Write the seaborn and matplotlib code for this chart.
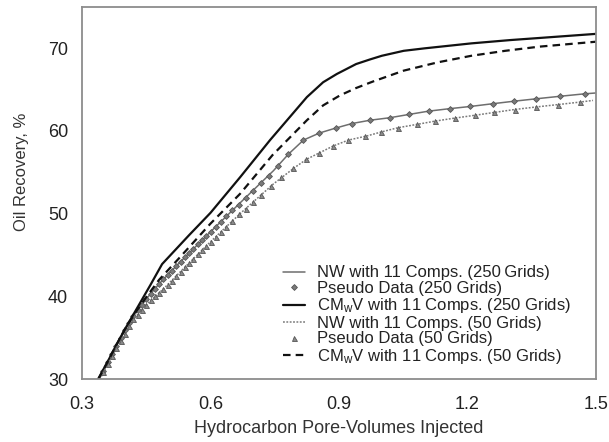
import matplotlib
matplotlib.use("Agg")
import matplotlib.pyplot as plt
import seaborn as sns
import pandas as pd

# ---- data ----
cmwv250_x = [0.338, 0.36, 0.38, 0.40, 0.42, 0.44, 0.46, 0.487, 0.55, 0.60, 0.669, 0.739,
             0.825, 0.863, 0.895, 0.94, 0.972, 1.0, 1.051, 1.10, 1.209, 1.30, 1.367, 1.5]
cmwv250_y = [30.0, 32.1, 34.1, 36.0, 37.8, 39.6, 41.4, 43.9, 47.4, 50.1, 54.4, 58.9,
             64.1, 65.9, 66.9, 68.1, 68.65, 69.1, 69.7, 70.0, 70.6, 71.0, 71.25, 71.75]

cmwv50_x = [0.338, 0.36, 0.38, 0.40, 0.42, 0.45, 0.48, 0.53, 0.60, 0.669, 0.745, 0.825,
            0.863, 0.902, 0.94, 0.98, 1.051, 1.13, 1.209, 1.288, 1.367, 1.5]
cmwv50_y = [30.0, 32.1, 34.1, 36.0, 37.7, 39.9, 42.0, 44.8, 48.8, 52.4, 57.1, 61.3,
            63.1, 64.3, 65.2, 66.0, 67.3, 68.3, 69.1, 69.7, 70.2, 70.8]

nw250_x = [0.338, 0.36, 0.38, 0.40, 0.42, 0.44, 0.46, 0.48, 0.50, 0.534, 0.60, 0.669, 0.747,
           0.782, 0.817, 0.854, 0.892, 0.93, 0.972, 1.018, 1.063, 1.109, 1.158, 1.207,
           1.259, 1.308, 1.361, 1.416, 1.474, 1.5]
nw250_y = [29.8, 32.0, 34.0, 35.9, 37.6, 39.0, 40.3, 41.5, 42.6, 44.4, 47.8, 51.3, 55.2,
           57.2, 58.9, 59.75, 60.35, 60.9, 61.3, 61.6, 62.0, 62.4, 62.7, 62.97,
           63.3, 63.6, 63.9, 64.2, 64.5, 64.6]

nw50_x = [0.338, 0.36, 0.38, 0.40, 0.42, 0.45, 0.49, 0.534, 0.60, 0.669, 0.747, 0.797,
          0.825, 0.856, 0.887, 0.922, 0.965, 1.0, 1.038, 1.082, 1.125, 1.17, 1.217,
          1.263, 1.31, 1.359, 1.412, 1.463, 1.493]
nw50_y = [29.6, 31.8, 33.7, 35.5, 37.2, 39.0, 40.9, 43.2, 46.6, 50.0, 53.6, 55.6,
          56.6, 57.4, 58.2, 58.9, 59.4, 59.9, 60.4, 60.8, 61.2, 61.56, 61.9,
          62.25, 62.6, 62.9, 63.2, 63.5, 63.7]

pseudo250_x = [0.35, 0.36, 0.37, 0.38, 0.39, 0.40, 0.41, 0.42, 0.43, 0.44, 0.45, 0.46, 0.47,
               0.48, 0.49, 0.50, 0.51, 0.52, 0.53, 0.54, 0.55, 0.56, 0.57, 0.58, 0.59, 0.60,
               0.612, 0.624, 0.637, 0.651, 0.666, 0.682, 0.699, 0.717, 0.736, 0.758, 0.782,
               0.817, 0.854, 0.892, 0.93, 0.972, 1.018, 1.063, 1.109, 1.158, 1.207, 1.259,
               1.308, 1.361, 1.416, 1.474]
pseudo250_y = [31.0, 32.0, 33.0, 34.0, 35.0, 35.9, 36.8, 37.6, 38.3, 39.0, 39.7, 40.3, 40.9,
               41.5, 42.1, 42.6, 43.1, 43.7, 44.2, 44.7, 45.2, 45.7, 46.3, 46.8, 47.3, 47.8,
               48.4, 49.0, 49.7, 50.4, 51.1, 51.9, 52.8, 53.7, 54.6, 55.8, 57.2,
               58.9, 59.75, 60.35, 60.9, 61.3, 61.6, 62.0, 62.4, 62.7, 63.0, 63.3,
               63.6, 63.9, 64.2, 64.5]

pseudo50_x = [0.35, 0.36, 0.37, 0.38, 0.39, 0.40, 0.41, 0.42, 0.43, 0.44, 0.45, 0.46, 0.47,
              0.48, 0.49, 0.50, 0.51, 0.52, 0.53, 0.54, 0.55, 0.56, 0.57, 0.58, 0.59, 0.60,
              0.612, 0.624, 0.637, 0.651, 0.666, 0.682, 0.70, 0.719, 0.742, 0.765, 0.793,
              0.824, 0.853, 0.887, 0.922, 0.96, 0.998, 1.038, 1.082, 1.125, 1.17, 1.217,
              1.263, 1.31, 1.359, 1.412, 1.463]
pseudo50_y = [30.8, 31.8, 32.8, 33.7, 34.6, 35.5, 36.4, 37.2, 37.8, 38.4, 39.0, 39.5, 40.0,
              40.4, 40.9, 41.4, 41.9, 42.4, 43.0, 43.5, 44.0, 44.5, 45.1, 45.6, 46.1, 46.6,
              47.2, 47.8, 48.4, 49.1, 49.9, 50.6, 51.4, 52.3, 53.4, 54.4, 55.5,
              56.6, 57.3, 58.2, 58.9, 59.4, 59.9, 60.4, 60.8, 61.2, 61.56, 61.9,
              62.25, 62.6, 62.9, 63.2, 63.5]

x_ticks = [0.3, 0.6, 0.9, 1.2, 1.5]
y_ticks = [30, 40, 50, 60, 70]

lbl_nw250 = "NW with 11 Comps. (250\u2009Grids)"
lbl_ps250 = "Pseudo Data (250 Grids)"
lbl_cm250 = r"CM$_{\mathrm{w}}$V with 11 Comps. (250 Grids)"
lbl_nw50 = "NW with 11 Comps. (50 Grids)"
lbl_ps50 = "Pseudo Data (50 Grids)"
lbl_cm50 = r"CM$_{\mathrm{w}}$V with 11 Comps. (50 Grids)"

# ---- style ----
sns.set_style("white")
plt.rcParams["font.family"] = ["Liberation Sans", "DejaVu Sans"]
plt.rcParams["mathtext.fontset"] = "custom"
plt.rcParams["mathtext.rm"] = "Liberation Sans"
plt.rcParams["mathtext.it"] = "Liberation Sans:italic"

fig = plt.figure(figsize=(6.09, 4.42), dpi=100)
ax = fig.add_axes([82 / 609, 1 - 379 / 442, (596 - 82) / 609, (379 - 7) / 442])

def df(x, y):
    return pd.DataFrame({"x": x, "y": y})

sns.lineplot(data=df(nw250_x, nw250_y), x="x", y="y", ax=ax, color="#6e6e6e",
             lw=1.1, label=lbl_nw250, sort=False)
sns.lineplot(data=df(pseudo250_x, pseudo250_y), x="x", y="y", ax=ax, color="#777777",
             lw=0, marker="D", markersize=3.0, markerfacecolor="#7a7a7a",
             markeredgecolor="#555555", markeredgewidth=0.6, label=lbl_ps250, sort=False)
sns.lineplot(data=df(cmwv250_x, cmwv250_y), x="x", y="y", ax=ax, color="#111111",
             lw=1.6, label=lbl_cm250, sort=False)
sns.lineplot(data=df(nw50_x, nw50_y), x="x", y="y", ax=ax, color="#7a7a7a",
             lw=1.1, linestyle=(0, (1.2, 1.0)), label=lbl_nw50, sort=False)
sns.lineplot(data=df(pseudo50_x, pseudo50_y), x="x", y="y", ax=ax, color="#777777",
             lw=0, marker="^", markersize=3.6, markerfacecolor="#8a8a8a",
             markeredgecolor="#555555", markeredgewidth=0.6, label=lbl_ps50, sort=False)
sns.lineplot(data=df(cmwv50_x, cmwv50_y), x="x", y="y", ax=ax, color="#111111",
             lw=1.6, linestyle=(0, (3.4, 2.3)), label=lbl_cm50, sort=False)

ax.set_xlim(0.3, 1.5)
ax.set_ylim(30, 75)
ax.set_xticks(x_ticks)
ax.set_xticklabels([f"{v:.1f}" for v in x_ticks])
ax.set_yticks(y_ticks)
ax.set_xlabel("Hydrocarbon Pore-Volumes Injected", fontsize=13, color="#333333", labelpad=5)
ax.set_ylabel("Oil Recovery, %", fontsize=12, color="#333333")
ax.yaxis.set_label_coords(-0.103, 0.556)
ax.tick_params(direction="in", length=4, width=1, colors="#888888",
               labelcolor="#222222", labelsize=13)
ax.tick_params(axis="x", pad=12)
ax.tick_params(axis="y", pad=10)
for s in ax.spines.values():
    s.set_color("#8c8c8c")
    s.set_linewidth(1.3)
    s.set_visible(True)

leg = ax.legend(loc="lower left", bbox_to_anchor=(0.391, 0.035), frameon=False,
                fontsize=12, labelspacing=0.03, handlelength=1.35, handletextpad=0.7,
                borderaxespad=0.0, borderpad=0.0)
for t in leg.get_texts():
    t.set_color("#222222")

fig.savefig("out.png", dpi=100)
